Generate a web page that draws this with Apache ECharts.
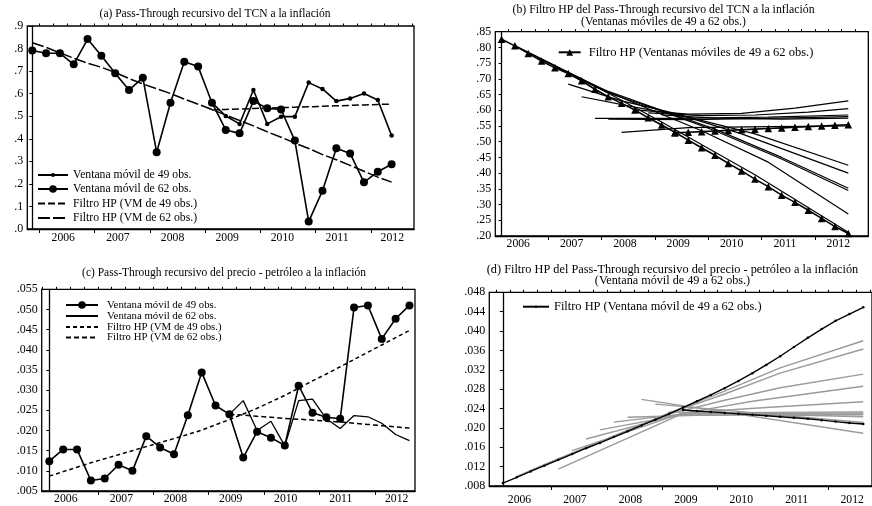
<!DOCTYPE html>
<html><head><meta charset="utf-8">
<script src="https://cdn.jsdelivr.net/npm/echarts@6/dist/echarts.min.js"></script>
<style>html,body{margin:0;padding:0;background:#fff}#c{width:872px;height:506px}</style>
</head><body><div id="c"></div>
<script>
const FONT = 'Liberation Serif';
const years = ['2006','2007','2008','2009','2010','2011','2012'];

// ---- Panel (a): Pass-Through recursivo del TCN ----
const tcn62 = [.791,.779,.779,.730,.842,.768,.690,.616,.671,.340,.560,.742,.720,.560,.439,.424,.567,.535,.530,.392,.033,.170,.358,.335,.207,.254,.287];
const tcn49Start = 13;
const tcn49 = [.560,.501,.466,.616,.466,.498,.498,.649,.621,.567,.579,.601,.572,.414];
const tcnHP62 = [.826,.805,.781,.757,.735,.717,.694,.667,.643,.622,.601,.576,.553,.530,.505,.481,.457,.431,.407,.381,.357,.330,.307,.282,.256,.230,.208];
const tcnHP49 = [.528,.530,.532,.534,.536,.538,.540,.542,.544,.546,.548,.550,.552,.554];

// ---- Panel (b): HP filters of intermediate windows ([index, value] read points) ----
const tcnHPwin = [
  [[1,.806],[6,.700],[12,.563],[19,.395],[26,.212]],
  [[2,.784],[7,.676],[11,.605],[15,.535],[20,.435],[26,.270]],
  [[3,.762],[8,.655],[12,.598],[16,.535],[21,.445],[26,.345]],
  [[4,.740],[8,.660],[12,.600],[16,.540],[21,.450],[26,.352]],
  [[5,.683],[9,.630],[13,.590],[18,.525],[26,.400]],
  [[6,.643],[10,.610],[14,.578],[19,.525],[26,.425]],
  [[7,.574],[13,.574],[20,.578],[26,.585]],
  [[8,.572],[14,.570],[20,.574],[26,.580]],
  [[9,.530],[14,.545],[20,.548],[26,.550]],
  [[10,.601],[14,.588],[18,.590],[22,.607],[26,.630]],
  [[11,.592],[15,.583],[19,.585],[23,.594],[26,.605]],
  [[12,.585],[16,.575],[21,.572],[26,.575]]
];

// ---- Panel (c): Pass-Through recursivo del precio - petróleo ----
const oil49 = [.0124,.0153,.0153,.0076,.0081,.0115,.0100,.0186,.0158,.0141,.0238,.0344,.0262,.0240,.0133,.0197,.0182,.0163,.0311,.0244,.0233,.0229,.0505,.0510,.0427,.0477,.0510];
const oil62Start = 13;
const oil62 = [.0240,.0274,.0200,.0223,.0162,.0274,.0278,.0229,.0205,.0237,.0234,.0218,.0190,.0175];
const oilHP49 = [.0087,.0098,.0109,.0120,.0130,.0140,.0150,.0160,.0170,.0180,.0190,.0201,.0214,.0227,.0241,.0255,.0271,.0287,.0305,.0323,.0340,.0358,.0376,.0394,.0412,.0430,.0448];
const oilHP62 = [.0240,.0238,.0235,.0233,.0230,.0228,.0226,.0223,.0221,.0218,.0215,.0212,.0209,.0206];

// ---- Panel (d): HP filters of oil pass-through ----
const oilHPfull = [.0086,.0098,.0110,.0122,.0134,.0146,.0158,.0169,.0181,.0193,.0205,.0217,.0229,.0242,.0255,.0268,.0282,.0297,.0313,.0330,.0348,.0367,.0386,.0404,.0421,.0435,.0449];
const oilHPlate = [.0237,.0235,.0233,.0231,.0229,.0227,.0225,.0223,.0221,.0219,.0216,.0213,.0210,.0208];
const oilHPwin = [
  [[1,.0100],[12,.0231],[16,.0276],[20,.0324],[26,.0380]],
  [[2,.0112],[12,.0230],[16,.0270],[20,.0313],[26,.0363]],
  [[3,.0124],[12,.0229],[16,.0257],[20,.0283],[26,.0311]],
  [[4,.0115],[13,.0230],[18,.0255],[26,.0286]],
  [[5,.0153],[13,.0231],[19,.0242],[26,.0254]],
  [[6,.0177],[13,.0230],[19,.0232],[26,.0233]],
  [[7,.0196],[13,.0228],[19,.0229],[26,.0229]],
  [[8,.0212],[13,.0229],[26,.0231]],
  [[9,.0222],[14,.0226],[26,.0227]],
  [[10,.0259],[26,.0189]],
  [[11,.0249],[26,.0211]],
  [[12,.0233],[26,.0223]]
];

const pts = (start, vals) => vals.map((v, i) => [start + i, v]);

const grids = [
  {left: 27.3, top: 26, width: 386.7, height: 203},
  {left: 495.3, top: 31.7, width: 373, height: 204.3},
  {left: 41.7, top: 289.3, width: 373.3, height: 201.7},
  {left: 489.3, top: 292.3, width: 386, height: 200.2}
];
const xs = [
  {min: -0.36, max: 27.62, labels: [2.24,6.2,10.15,14.1,18.1,22.05,26.05], majorFrom: 0.5, margin: 3},
  {min: -0.47, max: 27.5, labels: [1.25,5.25,9.25,13.25,17.25,21.25,25.25], majorFrom: 3.5, margin: 2},
  {min: -0.55, max: 26.4, labels: [1.19,5.2,9.1,13.1,17.07,21.04,25.08], majorFrom: 3.5, margin: 2},
  {min: -0.98, max: 26.63, labels: [1.2,5.2,9.2,13.2,17.2,21.2,25.2], majorFrom: 3.5, margin: 8}
];
const ys = [
  {min: 0, max: 0.9, interval: 0.1, dec: 1},
  {min: 0.2, max: 0.85, interval: 0.05, dec: 2},
  {min: 0.005, max: 0.055, interval: 0.005, dec: 3},
  {min: 0.008, max: 0.048, interval: 0.004, dec: 3}
];

const black = '#000';
const xAxis = [], yAxis = [];
xs.forEach((s, gi) => {
  const minor = [], major = [];
  for (let q = Math.ceil(s.min - 0.5) + 0.5; q < s.max; q += 1) minor.push(q);
  for (let q = s.majorFrom; q < s.max; q += 4) major.push(q);
  xAxis.push({
    type: 'value', gridIndex: gi, min: s.min, max: s.max,
    axisLine: {show: true, lineStyle: {color: black, width: 1.3}},
    splitLine: {show: false},
    axisTick: {show: true, customValues: major, length: 4, lineStyle: {color: black, width: 1}},
    axisLabel: {show: true, customValues: s.labels, margin: s.margin, color: black, fontFamily: FONT, fontSize: 11.7,
      formatter: v => { const j = s.labels.findIndex(l => Math.abs(l - v) < 1e-6); return j >= 0 ? years[j] : ''; }}
  });
  xAxis.push({
    type: 'value', gridIndex: gi, min: s.min, max: s.max,
    axisLine: {show: false}, splitLine: {show: false}, axisLabel: {show: false},
    axisTick: {show: true, customValues: minor, length: 2.5, lineStyle: {color: black, width: 1}}
  });
});
ys.forEach((s, gi) => {
  yAxis.push({
    type: 'value', gridIndex: gi, min: s.min, max: s.max, interval: s.interval,
    axisLine: {show: true, lineStyle: {color: black, width: 1.3}},
    splitLine: {show: false},
    axisTick: {show: true, length: 3, lineStyle: {color: black, width: 1}},
    axisLabel: {margin: 4, color: black, fontFamily: FONT, fontSize: 12,
      formatter: v => v.toFixed(s.dec).replace(/^0\./, '.')}
  });
});

function line(name, gi, data, opt) {
  return Object.assign({
    type: 'line', name, xAxisIndex: gi * 2, yAxisIndex: gi, data,
    symbol: 'none', animation: false, silent: true,
    lineStyle: {color: black, width: 1.6}, itemStyle: {color: black}
  }, opt || {});
}

const nA = ['Ventana móvil de 49 obs.', 'Ventana móvil de 62 obs.', 'Filtro HP (VM de 49 obs.)', 'Filtro HP (VM de 62 obs.)'];
const nC = nA.map(n => n + '\u200b');
const nB = 'Filtro HP (Ventanas móviles de 49 a 62 obs.)';
const nD = 'Filtro HP (Ventana móvil de 49 a 62 obs.)';

const series = [];
// (a)
series.push(line(nA[2], 0, pts(tcn49Start, tcnHP49), {lineStyle: {color: black, width: 1.5, type: [7, 3]}}));
series.push(line(nA[3], 0, pts(0, tcnHP62), {lineStyle: {color: black, width: 1.5, type: [12, 3]}}));
series.push(line(nA[0], 0, pts(tcn49Start, tcn49), {symbol: 'circle', symbolSize: 4.5, showAllSymbol: true}));
series.push(line(nA[1], 0, pts(0, tcn62), {symbol: 'circle', symbolSize: 8, showAllSymbol: true}));
// (b)
series.push(line(nB, 1, pts(0, tcnHP62), {symbol: 'triangle', symbolSize: 7.5, showAllSymbol: true}));
series.push(line(nB, 1, pts(tcn49Start, tcnHP49), {symbol: 'triangle', symbolSize: 7.5, showAllSymbol: true}));
tcnHPwin.forEach(w => series.push(line(nB, 1, w, {lineStyle: {color: black, width: 1.2}})));
// (c)
series.push(line(nC[2], 2, pts(0, oilHP49), {lineStyle: {color: black, width: 1.5, type: [4, 3]}}));
series.push(line(nC[3], 2, pts(oil62Start, oilHP62), {lineStyle: {color: black, width: 1.5, type: [5, 3]}}));
series.push(line(nC[1], 2, pts(oil62Start, oil62), {lineStyle: {color: black, width: 1.3}}));
series.push(line(nC[0], 2, pts(0, oil49), {symbol: 'circle', symbolSize: 8, showAllSymbol: true}));
// (d)
series.push(line(nD, 3, pts(0, oilHPfull), {symbol: 'circle', symbolSize: 2.5, showAllSymbol: true, z: 5, lineStyle: {color: black, width: 1.4}}));
oilHPwin.forEach(w => series.push(line(nD + '\u200b', 3, w, {lineStyle: {color: '#9a9a9a', width: 1.4}, itemStyle: {color: '#9a9a9a'}, z: 3})));
series.push(line(nD + '\u200b\u200b', 3, pts(tcn49Start, oilHPlate), {symbol: 'circle', symbolSize: 2.5, showAllSymbol: true, z: 5, lineStyle: {color: black, width: 1.4}}));

function leg(name, left, cy, w, h, fs, pad, extra) {
  const item = Object.assign({name}, extra || {});
  return {left, top: cy - 7, orient: 'vertical', padding: 0, itemGap: 0, itemWidth: w, itemHeight: h,
    selectedMode: false, data: [item],
    textStyle: {fontFamily: FONT, fontSize: fs, color: black, lineHeight: 14, padding: [0, 0, 0, pad]}};
}
const hideSym = {itemStyle: {opacity: 0}};
const legend = [
  leg(nA[0], 37, 175, 30, 5, 11.7, 0),
  leg(nA[1], 37, 189, 30, 9.5, 11.7, 0),
  leg(nA[2], 37, 203.5, 30, 8, 11.7, 0, hideSym),
  leg(nA[3], 37, 218, 30, 8, 11.7, 0, hideSym),
  leg(nB, 557.7, 52.3, 22, 8.5, 12.5, 3),
  leg(nC[0], 65, 305, 32, 9.5, 10.8, 4),
  leg(nC[1], 65, 316, 32, 8, 10.8, 4, hideSym),
  leg(nC[2], 65, 327, 32, 8, 10.8, 4, hideSym),
  leg(nC[3], 65, 337.5, 32, 8, 10.8, 4, hideSym),
  leg(nD, 522, 306.7, 26, 3, 12.4, 0)
];

const titles = [
  ['(a) Pass-Through recursivo del TCN a la inflación', 215, 14, 11.5],
  ['(b) Filtro HP del Pass-Through recursivo del TCN a la inflación', 663.5, 10, 11.8],
  ['(Ventanas móviles de 49 a 62 obs.)', 663.5, 21.7, 11.8],
  ['(c) Pass-Through recursivo del precio - petróleo a la inflación', 224, 273.3, 11.5],
  ['(d) Filtro HP del Pass-Through recursivo del precio - petróleo a la inflación', 672.5, 270, 12.3],
  ['(Ventana móvil de 49 a 62 obs.)', 672.5, 281, 12.2]
];
const graphic = titles.map(t => ({type: 'text', x: t[1], y: t[2], silent: true,
  style: {text: t[0], fill: black, font: t[3] + 'px "' + FONT + '"', textAlign: 'center', textVerticalAlign: 'middle'}}));

const chart = echarts.init(document.getElementById('c'));
chart.setOption({
  animation: false,
  grid: grids.map(g => Object.assign({show: true, borderColor: black, borderWidth: 1.3, containLabel: false}, g)),
  xAxis, yAxis, series, legend, graphic
});
</script></body></html>
